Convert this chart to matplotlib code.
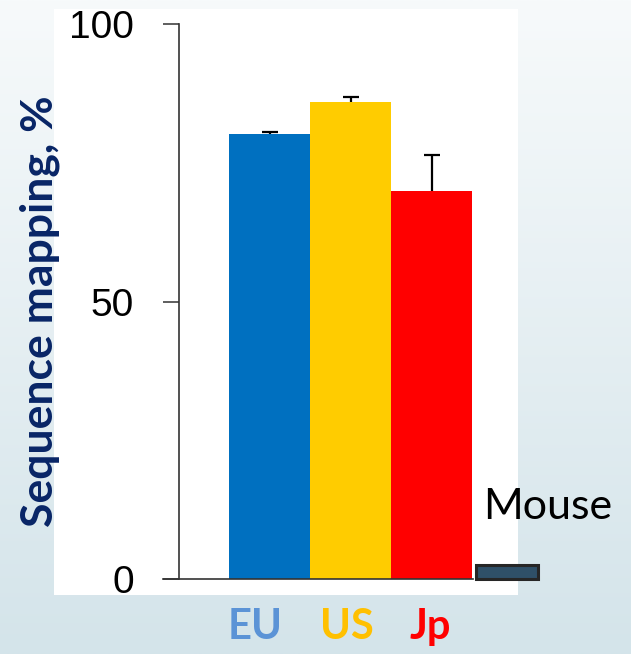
import numpy as np
import matplotlib
matplotlib.use("Agg")
import matplotlib.pyplot as plt
from matplotlib.patches import Rectangle
from matplotlib.colors import LinearSegmentedColormap

# data
groups = ["EU", "US", "Jp"]
mapping_pct = [80.1, 85.9, 70.0]
err_up = [0.5, 0.9, 6.4]
bar_colors = ["#0070C0", "#FFCC00", "#FF0000"]
label_colors = ["#5B93D6", "#FFC000", "#FF0000"]
mouse_pct = [2.5]

W, H = 631, 654
fig = plt.figure(figsize=(W / 100, H / 100), dpi=100)

# slide background gradient
bg = fig.add_axes([0, 0, 1, 1], zorder=-10)
cmap = LinearSegmentedColormap.from_list("slide", ["#d4e4ea", "#f7fafb"])
bg.imshow(np.linspace(0, 1, 256).reshape(-1, 1), aspect="auto", cmap=cmap,
          origin="lower", extent=[0, 1, 0, 1])
bg.set_axis_off()

# white panel behind the chart
fig.patches.append(Rectangle((54 / W, 1 - 595 / H), (518 - 54) / W, (595 - 9) / H,
                             transform=fig.transFigure, facecolor="white",
                             edgecolor="none", zorder=-5))

ax = fig.add_axes([179 / W, 1 - 579 / H, (W - 179) / W, (579 - 24) / H])
ax.patch.set_alpha(0)

x = np.arange(len(groups))
ax.bar(x, mapping_pct, width=1.0, color=bar_colors, edgecolor="none", zorder=2)
eb = ax.errorbar(x, mapping_pct, yerr=[np.zeros(len(x)), err_up], fmt="none",
                 ecolor="black", elinewidth=1.6, capsize=5.5, capthick=1.6, zorder=3)
eb[1][0].set_visible(False)  # only the upper cap

# mouse control bar
ax.bar([2.93], mouse_pct, width=0.77, color="#2F5068", edgecolor="#262626",
       linewidth=2.2, zorder=3, clip_on=False)
ax.text(2.64, 10.8, "Mouse", fontsize=31, family="Lato", color="black",
        ha="left", va="baseline")

ax.set_xlim(-1.117, 4.46)
ax.set_ylim(0, 100)
ax.set_yticks([0, 50, 100])
ax.tick_params(axis="y", direction="out", length=11.5, width=1.1, color="#333333",
               pad=21, labelsize=28)
for t in ax.get_yticklabels():
    t.set_family("Liberation Sans")
ax.set_xticks([])

for s in ["top", "right", "bottom"]:
    ax.spines[s].set_visible(False)
ax.spines["left"].set_color("#333333")
ax.spines["left"].set_linewidth(1.2)
ax.axhline(0, xmin=-16 / (W - 179), xmax=(473 - 179) / (W - 179),
           color="#333333", linewidth=1.2, clip_on=False, zorder=4)

# colored category labels
offsets = [-0.18, -0.04, -0.02]
for xi, name, c, off in zip(x, groups, label_colors, offsets):
    ax.text(xi + off, -8.7, name, fontsize=30, family="Lato", weight="bold",
            color=c, ha="center", va="center")

fig.text(40 / W, 1 - 311 / H, "Sequence mapping, %", rotation=90,
         fontsize=32, family="Lato", weight="bold", color="#082566",
         ha="center", va="center")

fig.savefig("out.png", dpi=100)
